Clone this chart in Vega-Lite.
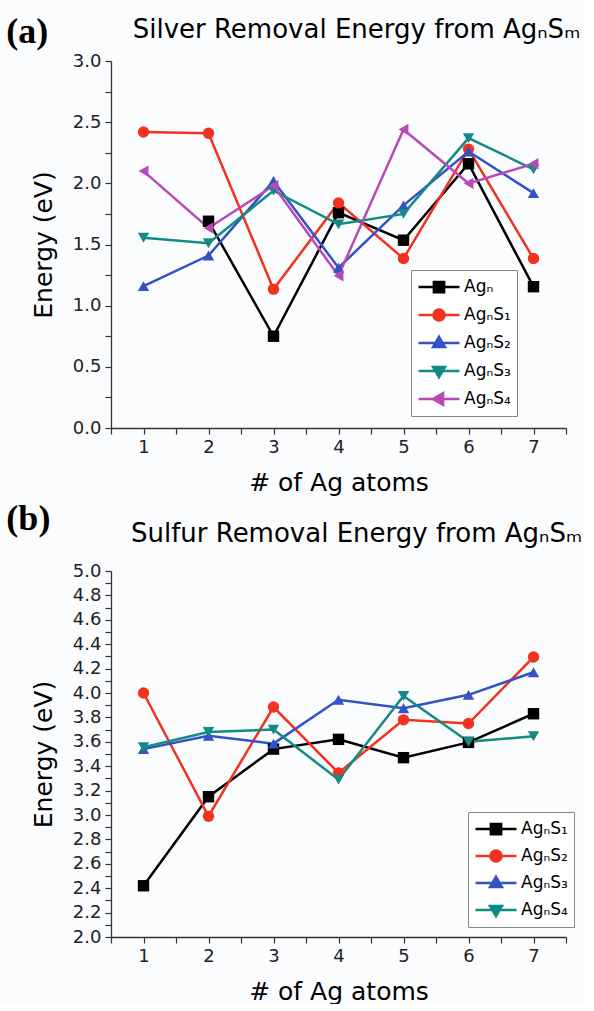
{
  "$schema": "https://vega.github.io/schema/vega-lite/v6.json",
  "background": "#fbfcfe",
  "padding": {"left": 6, "top": 14, "right": 0, "bottom": 0},
  "spacing": 6,
  "config": {
    "font": "DejaVu Sans",
    "view": {"stroke": null},
    "title": {"fontWeight": "normal", "color": "#000"},
    "axis": {
      "grid": false,
      "domainColor": "#333",
      "domainWidth": 1.3,
      "tickColor": "#333",
      "tickWidth": 1.2,
      "tickSize": 6,
      "tickCount": 200,
      "labelFontSize": 18,
      "labelColor": "#222",
      "labelPadding": 4,
      "labelOverlap": false,
      "labelFlush": false,
      "titleFontSize": 25,
      "titleFontWeight": "normal",
      "titleColor": "#000"
    }
  },
  "datasets": {
    "silver": [
      {"n": 2, "series": "Ag\u2099", "E": 1.69},
      {"n": 3, "series": "Ag\u2099", "E": 0.75},
      {"n": 4, "series": "Ag\u2099", "E": 1.76},
      {"n": 5, "series": "Ag\u2099", "E": 1.535},
      {"n": 6, "series": "Ag\u2099", "E": 2.16},
      {"n": 7, "series": "Ag\u2099", "E": 1.155},
      {"n": 1, "series": "Ag\u2099S\u2081", "E": 2.42},
      {"n": 2, "series": "Ag\u2099S\u2081", "E": 2.41},
      {"n": 3, "series": "Ag\u2099S\u2081", "E": 1.135},
      {"n": 4, "series": "Ag\u2099S\u2081", "E": 1.84},
      {"n": 5, "series": "Ag\u2099S\u2081", "E": 1.385},
      {"n": 6, "series": "Ag\u2099S\u2081", "E": 2.28},
      {"n": 7, "series": "Ag\u2099S\u2081", "E": 1.385},
      {"n": 1, "series": "Ag\u2099S\u2082", "E": 1.16},
      {"n": 2, "series": "Ag\u2099S\u2082", "E": 1.41},
      {"n": 3, "series": "Ag\u2099S\u2082", "E": 2.02},
      {"n": 4, "series": "Ag\u2099S\u2082", "E": 1.31},
      {"n": 5, "series": "Ag\u2099S\u2082", "E": 1.82},
      {"n": 6, "series": "Ag\u2099S\u2082", "E": 2.26},
      {"n": 7, "series": "Ag\u2099S\u2082", "E": 1.92},
      {"n": 1, "series": "Ag\u2099S\u2083", "E": 1.555},
      {"n": 2, "series": "Ag\u2099S\u2083", "E": 1.51},
      {"n": 3, "series": "Ag\u2099S\u2083", "E": 1.94},
      {"n": 4, "series": "Ag\u2099S\u2083", "E": 1.665},
      {"n": 5, "series": "Ag\u2099S\u2083", "E": 1.75},
      {"n": 6, "series": "Ag\u2099S\u2083", "E": 2.37},
      {"n": 7, "series": "Ag\u2099S\u2083", "E": 2.115},
      {"n": 1, "series": "Ag\u2099S\u2084", "E": 2.1},
      {"n": 2, "series": "Ag\u2099S\u2084", "E": 1.635},
      {"n": 3, "series": "Ag\u2099S\u2084", "E": 1.98},
      {"n": 4, "series": "Ag\u2099S\u2084", "E": 1.245},
      {"n": 5, "series": "Ag\u2099S\u2084", "E": 2.44},
      {"n": 6, "series": "Ag\u2099S\u2084", "E": 2.0},
      {"n": 7, "series": "Ag\u2099S\u2084", "E": 2.16}
    ],
    "sulfur": [
      {"n": 1, "series": "Ag\u2099S\u2081", "E": 2.42},
      {"n": 2, "series": "Ag\u2099S\u2081", "E": 3.15},
      {"n": 3, "series": "Ag\u2099S\u2081", "E": 3.54},
      {"n": 4, "series": "Ag\u2099S\u2081", "E": 3.62},
      {"n": 5, "series": "Ag\u2099S\u2081", "E": 3.47},
      {"n": 6, "series": "Ag\u2099S\u2081", "E": 3.595},
      {"n": 7, "series": "Ag\u2099S\u2081", "E": 3.83},
      {"n": 1, "series": "Ag\u2099S\u2082", "E": 4.0},
      {"n": 2, "series": "Ag\u2099S\u2082", "E": 2.99},
      {"n": 3, "series": "Ag\u2099S\u2082", "E": 3.885},
      {"n": 4, "series": "Ag\u2099S\u2082", "E": 3.345},
      {"n": 5, "series": "Ag\u2099S\u2082", "E": 3.78},
      {"n": 6, "series": "Ag\u2099S\u2082", "E": 3.75},
      {"n": 7, "series": "Ag\u2099S\u2082", "E": 4.295},
      {"n": 1, "series": "Ag\u2099S\u2083", "E": 3.54},
      {"n": 2, "series": "Ag\u2099S\u2083", "E": 3.65},
      {"n": 3, "series": "Ag\u2099S\u2083", "E": 3.585},
      {"n": 4, "series": "Ag\u2099S\u2083", "E": 3.945},
      {"n": 5, "series": "Ag\u2099S\u2083", "E": 3.875},
      {"n": 6, "series": "Ag\u2099S\u2083", "E": 3.985},
      {"n": 7, "series": "Ag\u2099S\u2083", "E": 4.17},
      {"n": 1, "series": "Ag\u2099S\u2084", "E": 3.555},
      {"n": 2, "series": "Ag\u2099S\u2084", "E": 3.68},
      {"n": 3, "series": "Ag\u2099S\u2084", "E": 3.7},
      {"n": 4, "series": "Ag\u2099S\u2084", "E": 3.29},
      {"n": 5, "series": "Ag\u2099S\u2084", "E": 3.975},
      {"n": 6, "series": "Ag\u2099S\u2084", "E": 3.6},
      {"n": 7, "series": "Ag\u2099S\u2084", "E": 3.645}
    ]
  },
  "vconcat": [
    {
      "title": {"text": "(a)", "anchor": "start", "frame": "bounds", "font": "Liberation Serif", "fontWeight": "bold", "fontSize": 36, "offset": -34, "dx": -25},
      "vconcat": [
        {
          "width": 455,
          "height": 367,
          "title": {"text": "Silver Removal Energy from Ag\u2099S\u2098", "fontSize": 26, "dx": 18, "offset": 9},
          "data": {"name": "silver"},
          "resolve": {"scale": {"color": "independent", "shape": "independent", "fill": "independent", "stroke": "independent"}},
          "layer": [
            {
              "transform": [{"filter": "false"}],
              "mark": {"type": "point", "filled": true, "strokeWidth": 2.5, "opacity": 1},
              "encoding": {
                "fill": {"field": "series", "type": "nominal",
                  "scale": {"domain": ["Ag\u2099", "Ag\u2099S\u2081", "Ag\u2099S\u2082", "Ag\u2099S\u2083", "Ag\u2099S\u2084"], "range": ["#000000", "#f2321e", "#3352c4", "#138a84", "#b84ab8"]},
                  "legend": {"title": null, "orient": "none", "legendX": 300, "legendY": 209, "strokeColor": "#888", "fillColor": "#ffffff", "padding": 6, "labelFontSize": 17, "labelColor": "#000", "symbolSize": 1681, "symbolStrokeWidth": 2.5, "clipHeight": 22, "rowPadding": 6, "labelOffset": 3}},
                "stroke": {"field": "series", "type": "nominal",
                  "scale": {"domain": ["Ag\u2099", "Ag\u2099S\u2081", "Ag\u2099S\u2082", "Ag\u2099S\u2083", "Ag\u2099S\u2084"], "range": ["#000000", "#f2321e", "#3352c4", "#138a84", "#b84ab8"]},
                  "legend": {"title": null, "orient": "none", "legendX": 300, "legendY": 209, "strokeColor": "#888", "fillColor": "#ffffff", "padding": 6, "labelFontSize": 17, "labelColor": "#000", "symbolSize": 1681, "symbolStrokeWidth": 2.5, "clipHeight": 22, "rowPadding": 6, "labelOffset": 3}},
                "shape": {"field": "series", "type": "nominal",
                  "scale": {"domain": ["Ag\u2099", "Ag\u2099S\u2081", "Ag\u2099S\u2082", "Ag\u2099S\u2083", "Ag\u2099S\u2084"],
                    "range": [
                      "M-1,0H1M-0.25,-0.25H0.25V0.25H-0.25Z",
                      "M-1,0H1M0.27,0A0.27,0.27 0 1,1 -0.27,0A0.27,0.27 0 1,1 0.27,0Z",
                      "M-1,0H1M0,-0.3L0.29,0.2H-0.29Z",
                      "M-1,0H1M0,0.3L0.29,-0.2H-0.29Z",
                      "M-1,0H1M-0.3,0L0.2,-0.29V0.29Z"
                    ]},
                  "legend": {"title": null, "orient": "none", "legendX": 300, "legendY": 209, "strokeColor": "#888", "fillColor": "#ffffff", "padding": 6, "labelFontSize": 17, "labelColor": "#000", "symbolSize": 1681, "symbolStrokeWidth": 2.5, "clipHeight": 22, "rowPadding": 6, "labelOffset": 3}}
              }
            },
            {
              "mark": {"type": "line", "strokeWidth": 2.5},
              "encoding": {
                "x": {"field": "n", "type": "quantitative", "title": "# of Ag atoms",
                  "scale": {"domain": [0.5, 7.5], "nice": false, "zero": false},
                  "axis": {"values": [0.5, 1, 1.5, 2, 2.5, 3, 3.5, 4, 4.5, 5, 5.5, 6, 6.5, 7, 7.5], "labelExpr": "datum.value % 1 === 0 ? format(datum.value, 'd') : ''", "titlePadding": 14,
                    "encode": {"ticks": {"update": {"y2": {"signal": "datum.value % 1 === 0 ? 6 : 3.5"}}}}}},
                "y": {"field": "E", "type": "quantitative", "title": "Energy (eV)",
                  "scale": {"domain": [0, 3], "nice": false, "zero": false},
                  "axis": {"values": [0, 0.25, 0.5, 0.75, 1, 1.25, 1.5, 1.75, 2, 2.25, 2.5, 2.75, 3], "labelExpr": "datum.value % 0.5 === 0 ? format(datum.value, '.1f') : ''", "titlePadding": 16,
                    "encode": {"ticks": {"update": {"x2": {"signal": "datum.value % 0.5 === 0 ? -6 : -3.5"}}}}}},
                "color": {"field": "series", "type": "nominal", "legend": null,
                  "scale": {"domain": ["Ag\u2099", "Ag\u2099S\u2081", "Ag\u2099S\u2082", "Ag\u2099S\u2083", "Ag\u2099S\u2084"], "range": ["#000000", "#f2321e", "#3352c4", "#138a84", "#b84ab8"]}}
              }
            },
            {
              "mark": {"type": "point", "filled": true, "size": 130, "opacity": 1},
              "encoding": {
                "x": {"field": "n", "type": "quantitative"},
                "y": {"field": "E", "type": "quantitative"},
                "color": {"field": "series", "type": "nominal", "legend": null,
                  "scale": {"domain": ["Ag\u2099", "Ag\u2099S\u2081", "Ag\u2099S\u2082", "Ag\u2099S\u2083", "Ag\u2099S\u2084"], "range": ["#000000", "#f2321e", "#3352c4", "#138a84", "#b84ab8"]}},
                "shape": {"field": "series", "type": "nominal", "legend": null,
                  "scale": {"domain": ["Ag\u2099", "Ag\u2099S\u2081", "Ag\u2099S\u2082", "Ag\u2099S\u2083", "Ag\u2099S\u2084"], "range": ["square", "circle", "triangle-up", "triangle-down", "triangle-left"]}}
              }
            }
          ]
        }
      ]
    },
    {
      "title": {"text": "(b)", "anchor": "start", "frame": "bounds", "font": "Liberation Serif", "fontWeight": "bold", "fontSize": 36, "offset": -17, "dx": -25},
      "vconcat": [
        {
          "width": 455,
          "height": 366,
          "title": {"text": "Sulfur Removal Energy from Ag\u2099S\u2098", "fontSize": 26, "dx": 18, "offset": 15},
          "data": {"name": "sulfur"},
          "resolve": {"scale": {"color": "independent", "shape": "independent", "fill": "independent", "stroke": "independent"}},
          "layer": [
            {
              "transform": [{"filter": "false"}],
              "mark": {"type": "point", "filled": true, "strokeWidth": 2.5, "opacity": 1},
              "encoding": {
                "fill": {"field": "series", "type": "nominal",
                  "scale": {"domain": ["Ag\u2099S\u2081", "Ag\u2099S\u2082", "Ag\u2099S\u2083", "Ag\u2099S\u2084"], "range": ["#000000", "#f2321e", "#3352c4", "#138a84"]},
                  "legend": {"title": null, "orient": "none", "legendX": 357, "legendY": 241, "strokeColor": "#888", "fillColor": "#ffffff", "padding": 6, "labelFontSize": 17, "labelColor": "#000", "symbolSize": 1681, "symbolStrokeWidth": 2.5, "clipHeight": 22, "rowPadding": 5, "labelOffset": 3}},
                "stroke": {"field": "series", "type": "nominal",
                  "scale": {"domain": ["Ag\u2099S\u2081", "Ag\u2099S\u2082", "Ag\u2099S\u2083", "Ag\u2099S\u2084"], "range": ["#000000", "#f2321e", "#3352c4", "#138a84"]},
                  "legend": {"title": null, "orient": "none", "legendX": 357, "legendY": 241, "strokeColor": "#888", "fillColor": "#ffffff", "padding": 6, "labelFontSize": 17, "labelColor": "#000", "symbolSize": 1681, "symbolStrokeWidth": 2.5, "clipHeight": 22, "rowPadding": 5, "labelOffset": 3}},
                "shape": {"field": "series", "type": "nominal",
                  "scale": {"domain": ["Ag\u2099S\u2081", "Ag\u2099S\u2082", "Ag\u2099S\u2083", "Ag\u2099S\u2084"],
                    "range": [
                      "M-1,0H1M-0.25,-0.25H0.25V0.25H-0.25Z",
                      "M-1,0H1M0.27,0A0.27,0.27 0 1,1 -0.27,0A0.27,0.27 0 1,1 0.27,0Z",
                      "M-1,0H1M0,-0.3L0.29,0.2H-0.29Z",
                      "M-1,0H1M0,0.3L0.29,-0.2H-0.29Z"
                    ]},
                  "legend": {"title": null, "orient": "none", "legendX": 357, "legendY": 241, "strokeColor": "#888", "fillColor": "#ffffff", "padding": 6, "labelFontSize": 17, "labelColor": "#000", "symbolSize": 1681, "symbolStrokeWidth": 2.5, "clipHeight": 22, "rowPadding": 5, "labelOffset": 3}}
              }
            },
            {
              "mark": {"type": "line", "strokeWidth": 2.5},
              "encoding": {
                "x": {"field": "n", "type": "quantitative", "title": "# of Ag atoms",
                  "scale": {"domain": [0.5, 7.5], "nice": false, "zero": false},
                  "axis": {"values": [0.5, 1, 1.5, 2, 2.5, 3, 3.5, 4, 4.5, 5, 5.5, 6, 6.5, 7, 7.5], "labelExpr": "datum.value % 1 === 0 ? format(datum.value, 'd') : ''", "titlePadding": 14,
                    "encode": {"ticks": {"update": {"y2": {"signal": "datum.value % 1 === 0 ? 6 : 3.5"}}}}}},
                "y": {"field": "E", "type": "quantitative", "title": "Energy (eV)",
                  "scale": {"domain": [2, 5], "nice": false, "zero": false},
                  "axis": {"values": [2, 2.1, 2.2, 2.3, 2.4, 2.5, 2.6, 2.7, 2.8, 2.9, 3, 3.1, 3.2, 3.3, 3.4, 3.5, 3.6, 3.7, 3.8, 3.9, 4, 4.1, 4.2, 4.3, 4.4, 4.5, 4.6, 4.7, 4.8, 4.9, 5], "labelExpr": "round(datum.value * 10) % 2 === 0 ? format(datum.value, '.1f') : ''", "titlePadding": 16,
                    "encode": {"ticks": {"update": {"x2": {"signal": "round(datum.value * 10) % 2 === 0 ? -6 : -3.5"}}}}}},
                "color": {"field": "series", "type": "nominal", "legend": null,
                  "scale": {"domain": ["Ag\u2099S\u2081", "Ag\u2099S\u2082", "Ag\u2099S\u2083", "Ag\u2099S\u2084"], "range": ["#000000", "#f2321e", "#3352c4", "#138a84"]}}
              }
            },
            {
              "mark": {"type": "point", "filled": true, "size": 130, "opacity": 1},
              "encoding": {
                "x": {"field": "n", "type": "quantitative"},
                "y": {"field": "E", "type": "quantitative"},
                "color": {"field": "series", "type": "nominal", "legend": null,
                  "scale": {"domain": ["Ag\u2099S\u2081", "Ag\u2099S\u2082", "Ag\u2099S\u2083", "Ag\u2099S\u2084"], "range": ["#000000", "#f2321e", "#3352c4", "#138a84"]}},
                "shape": {"field": "series", "type": "nominal", "legend": null,
                  "scale": {"domain": ["Ag\u2099S\u2081", "Ag\u2099S\u2082", "Ag\u2099S\u2083", "Ag\u2099S\u2084"], "range": ["square", "circle", "triangle-up", "triangle-down"]}}
              }
            }
          ]
        }
      ]
    }
  ]
}
